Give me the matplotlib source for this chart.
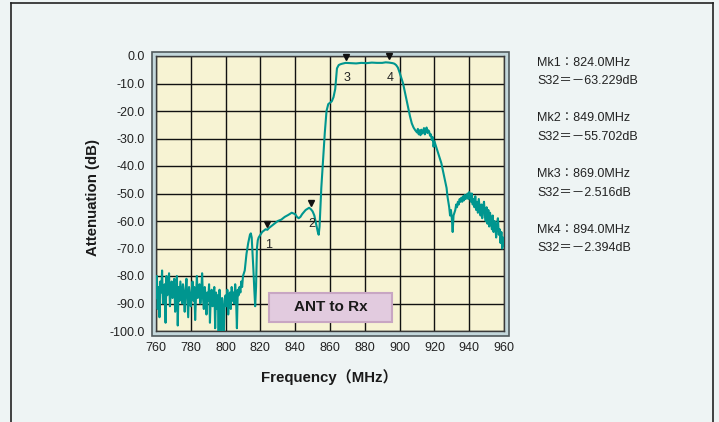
import matplotlib
matplotlib.use("Agg")
import matplotlib.pyplot as plt
from matplotlib.patches import Rectangle
from matplotlib.lines import Line2D
import matplotlib.transforms as mtransforms

plt.rcParams['font.family'] = ['Liberation Sans', 'Noto Sans CJK JP', 'DejaVu Sans']

# ---------------- data ----------------
noise_freq = [760 + 0.5 * i for i in range(101)]
noise_db = [
    -88, -80, -92, -84, -95, -82, -86, -78, -90, -85,
    -83, -97, -80, -87, -84, -79, -91, -86, -82, -88,
    -85, -81, -93, -87, -80, -98, -84, -89, -82, -86,
    -90, -83, -87, -93, -85, -81, -88, -95, -84, -87,
    -91, -86, -82, -89, -84, -96, -87, -80, -88, -85,
    -83, -90, -86, -79, -88, -92, -84, -87, -94, -86,
    -89, -83, -97, -87, -85, -91, -88, -84, -99, -86,
    -92, -87, -100, -85, -90, -100, -88, -93, -100, -89,
    -87, -91, -85, -94, -88, -86, -92, -84, -89, -86,
    -90, -83, -88, -99, -85, -87, -84, -86, -82, -84,
    -80,
]

main_freq = [
    811, 812, 813, 814, 814.5, 815, 815.5, 816, 816.5, 817, 817.5, 818, 818.5,
    819, 820, 821, 822, 823, 824, 825, 826, 828, 830, 832, 834, 836, 838, 840,
    841, 842, 843, 844, 846, 848, 849, 850, 851, 852, 853, 853.5, 854, 854.5,
    855, 856, 857, 858, 859, 860, 861, 862, 863, 863.5, 864, 865, 866, 867,
    869, 872, 875, 878, 881, 884, 887, 890, 892, 894, 896, 897, 898, 899, 900,
    901, 902, 903, 904, 905, 906, 907, 908, 909, 910, 910.5, 911, 911.5, 912,
    912.5, 913, 913.5, 914, 914.5, 915, 915.5, 916, 916.5, 917, 917.5, 918,
    918.5, 919, 919.5, 920, 921, 922, 923, 924, 925, 926, 927, 927.5, 928,
    928.5, 929, 929.5, 930, 930.5, 931, 931.5, 932, 932.5, 933, 933.5, 934,
    934.5, 935, 935.5, 936, 936.5, 937, 937.5, 938, 938.5, 939, 939.5, 940,
    940.5, 941, 941.5, 942, 942.5, 943, 943.5, 944, 944.5, 945, 945.5, 946,
    946.5, 947, 947.5, 948, 948.5, 949, 949.5, 950, 950.5, 951, 951.5, 952,
    952.5, 953, 953.5, 954, 954.5, 955, 955.5, 956, 956.5, 957, 957.5, 958,
    958.5, 959, 959.5, 960,
]
main_db = [
    -78, -72, -68, -65, -64.5, -66, -72, -78, -85, -91, -84, -70, -67,
    -66, -65, -64, -63.5, -63, -63.2, -62.5, -62, -61, -60, -59.5, -58.5, -57.8, -57, -57.5,
    -58.5, -59, -58.5, -57.5, -56, -55.2, -55.7, -56.5, -58, -61, -64, -65, -62, -55,
    -48, -38, -28, -20, -17.5, -17, -16.5, -15, -12, -8, -4.5, -3.3, -3, -2.8,
    -2.5, -2.6, -2.7, -2.5, -2.6, -2.4, -2.5, -2.5, -2.3, -2.4, -2.6, -2.8, -3.3, -4.2, -6,
    -8, -10, -13, -16, -19, -22, -24.5, -26, -27, -27.8, -26.5, -28.5, -27, -28.8,
    -26.8, -28.2, -27.5, -26.2, -28.5, -27, -26, -28, -27, -27.5, -29, -28.5,
    -30.5, -29.5, -33, -31, -33, -35, -37, -39, -42, -45, -48, -51, -53,
    -55, -58, -56, -59, -64, -58, -57, -56, -54, -55, -53, -54,
    -52, -53, -51.5, -53, -51, -52.5, -50.5, -52, -51, -50, -52, -49.5,
    -51, -53, -50, -54, -52, -55, -51, -56, -53, -57, -52, -55,
    -58, -54, -59, -55, -53, -58, -60, -55, -61, -56, -62, -57,
    -60, -63, -58, -64, -60, -62, -66, -61, -59, -65, -63, -68,
    -64, -70, -66, -69,
]

marker_ids = ['1', '2', '3', '4']
marker_freq = [824.0, 849.0, 869.0, 894.0]
marker_db = [-63.229, -55.702, -2.516, -2.394]

x_ticks = [760, 780, 800, 820, 840, 860, 880, 900, 920, 940, 960]
y_ticks = [0, -10, -20, -30, -40, -50, -60, -70, -80, -90, -100]

# ---------------- figure ----------------
W, H = 719, 422
fig = plt.figure(figsize=(W / 100, H / 100), dpi=100)
bg = '#eef4f4'
fig.patch.set_facecolor(bg)

def fx(px):
    return px / W

def fy(py):
    return 1 - py / H

# outer border lines
fig.add_artist(Line2D([fx(11), fx(11)], [fy(3), 0], color='#222222', lw=1.2))
fig.add_artist(Line2D([fx(713), fx(713)], [fy(3), 0], color='#222222', lw=1.2))
fig.add_artist(Line2D([fx(11), fx(713)], [fy(3), fy(3)], color='#222222', lw=1.2))

# frame around the plot area
fig.add_artist(Rectangle((fx(151.5), fy(335.5)), fx(508.5) - fx(151.5), fy(52) - fy(335.5),
                         facecolor='#c3d7db', edgecolor='#505a5c', lw=1.2, zorder=0))

ax = fig.add_axes([fx(156), fy(331), fx(504) - fx(156), fy(56) - fy(331)])
ax.set_facecolor('#f7f3d3')
ax.set_xlim(760, 960)
ax.set_ylim(-100, 0)
ax.set_xticks(x_ticks)
ax.set_yticks(y_ticks)
ax.set_xticklabels([str(v) for v in x_ticks])
ax.set_yticklabels([f"{v:.1f}" for v in y_ticks])
ax.tick_params(length=0, labelsize=9, colors='#222222', pad=8)
ax.grid(True, color='#111111', lw=1.0)
ax.set_axisbelow(True)
for s in ax.spines.values():
    s.set_color('#3a3a3a')
    s.set_linewidth(1.0)

line_color = '#00968f'
ax.plot(noise_freq + main_freq, noise_db + main_db, color=line_color, lw=1.5,
        solid_joinstyle='round', zorder=3)

tri_tr = mtransforms.offset_copy(ax.transData, fig=fig, x=0, y=4.5, units='points')
lab_tr = mtransforms.offset_copy(ax.transData, fig=fig, x=1, y=-11, units='points')
for mid, f, v in zip(marker_ids, marker_freq, marker_db):
    ax.plot([f], [v], marker='v', color='#111111', markersize=5, transform=tri_tr,
            clip_on=False, zorder=5)
    ax.text(f, v, mid, transform=lab_tr, ha='center', va='center', fontsize=9,
            color='#222222', zorder=5)

# "ANT to Rx" label box
box = Rectangle((0.3256, 0.034), 0.677 - 0.3256, 0.137 - 0.034, transform=ax.transAxes,
                facecolor='#e2cbdf', edgecolor='#c8a6c3', lw=1.5, zorder=6)
ax.add_patch(box)
ax.text((0.3256 + 0.677) / 2, (0.034 + 0.137) / 2, 'ANT to Rx', transform=ax.transAxes,
        ha='center', va='center', fontsize=11, fontweight='bold', color='#1a1a1a', zorder=7)

# axis labels
fig.text(fx(329), fy(377), 'Frequency（MHz）', ha='center', va='center', fontsize=10.8,
         fontweight='bold', color='#1a1a1a')
fig.text(fx(93), fy(197), 'Attenuation (dB)', ha='center', va='center', fontsize=10.8,
         fontweight='bold', color='#1a1a1a', rotation=90)

# marker readouts
readouts = []
for mid, f, v in zip(marker_ids, marker_freq, marker_db):
    readouts.append((f"Mk{mid}：{f:.1f}MHz", f"S32＝－{abs(v):.3f}dB"))
ys = [(62.7, 81), (118, 136.7), (174, 192.7), (230, 248)]
for (l1, l2), (y1, y2) in zip(readouts, ys):
    fig.text(fx(537), fy(y1), l1, ha='left', va='center', fontsize=9, color='#222222')
    fig.text(fx(537), fy(y2), l2, ha='left', va='center', fontsize=9, color='#222222')

fig.savefig('out.png', dpi=100, facecolor=bg)
